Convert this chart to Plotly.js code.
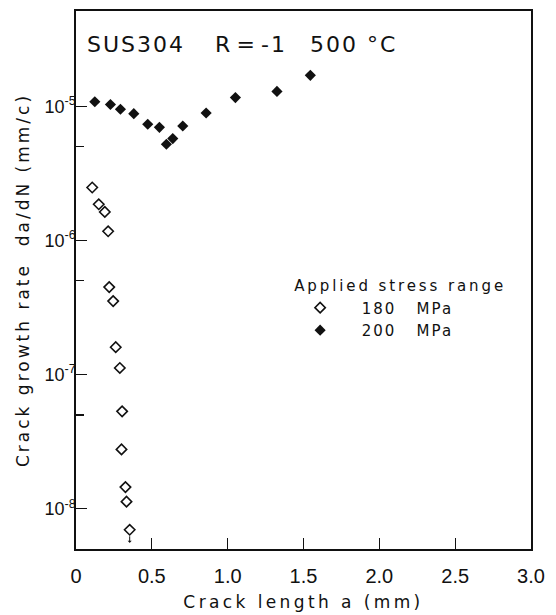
<!DOCTYPE html>
<html>
<head>
<meta charset="utf-8">
<script src="https://cdn.plot.ly/plotly-3.0.1.min.js"></script>
<style>
  html, body { margin: 0; padding: 0; background: #fff; }
  #chart { width: 556px; height: 615px; }
  .xtitle { letter-spacing: 3.4px; }
  .ytitle { letter-spacing: 3px; }
  .annotation-text { letter-spacing: 2px; }
  .legendtext { letter-spacing: 2px; }
  .legendtitletext { letter-spacing: 2.9px; }
</style>
</head>
<body>
<div id="chart"></div>
<script>
// Crack growth rate vs crack length, SUS304 at 500 °C, R = -1
const crack180 = [0.107, 0.150, 0.190, 0.212, 0.219, 0.245, 0.262, 0.289, 0.304, 0.300, 0.326, 0.333, 0.354];
const rate180  = [2.48e-6, 1.86e-6, 1.63e-6, 1.17e-6, 4.49e-7, 3.53e-7, 1.60e-7, 1.12e-7, 5.32e-8, 2.77e-8, 1.45e-8, 1.13e-8, 6.97e-9];

const crack200 = [0.124, 0.227, 0.293, 0.381, 0.473, 0.550, 0.596, 0.638, 0.704, 0.858, 1.051, 1.325, 1.545];
const rate200  = [1.08e-5, 1.03e-5, 9.5e-6, 8.8e-6, 7.34e-6, 6.97e-6, 5.21e-6, 5.74e-6, 7.13e-6, 8.91e-6, 1.16e-5, 1.29e-5, 1.70e-5];

const seriesNames = ['  180   MPa', '  200   MPa'];

const xTickVals = [0, 0.5, 1.0, 1.5, 2.0, 2.5, 3.0];
const xTickText = ['0', '0.5', '1.0', '1.5', '2.0', '2.5', '3.0'];
const yTickVals = [1e-8, 1e-7, 1e-6, 1e-5];
const yTickText = ['10<sup>-8</sup>', '10<sup>-7</sup>', '10<sup>-6</sup>', '10<sup>-5</sup>'];
const yMinorVals = [5e-8, 5e-7, 5e-6];

const ink = '#111';
const font = 'DejaVu Sans, sans-serif';

const traces = [
  {
    x: crack180, y: rate180, name: seriesNames[0],
    type: 'scatter', mode: 'markers',
    marker: { symbol: 'diamond-open', size: 8, color: ink, line: { width: 1.6, color: ink } }
  },
  {
    x: crack200, y: rate200, name: seriesNames[1],
    type: 'scatter', mode: 'markers',
    marker: { symbol: 'diamond', size: 8.6, color: ink, line: { width: 0 } }
  }
];

// the last 180 MPa point is a run-out: small arrow pointing down beneath it
const lastIdx = crack180.length - 1;

const layout = {
  width: 556, height: 615,
  margin: { l: 76, r: 25, t: 11, b: 66 },
  paper_bgcolor: '#fff', plot_bgcolor: '#fff',
  font: { family: font, color: ink },
  showlegend: true,
  legend: {
    x: 0.475, y: 0.515, xanchor: 'left', yanchor: 'top',
    bgcolor: 'rgba(0,0,0,0)', borderwidth: 0,
    itemwidth: 46,
    font: { family: font, size: 15, color: ink },
    title: { text: 'Applied stress range', font: { family: font, size: 15, color: ink } },
    tracegroupgap: 0
  },
  xaxis: {
    range: [0, 3.0],
    tickmode: 'array', tickvals: xTickVals, ticktext: xTickText,
    ticks: 'inside', ticklen: 11, tickwidth: 1.3, tickcolor: ink,
    showline: true, linewidth: 1.6, linecolor: ink, mirror: true,
    showgrid: false, zeroline: false,
    tickfont: { family: 'Liberation Sans, sans-serif', size: 20, color: ink },
    ticklabelstandoff: 8,
    title: { text: 'Crack length a (mm)', font: { family: font, size: 17, color: ink }, standoff: 10 }
  },
  yaxis: {
    type: 'log', range: [-8.3, -4.29],
    tickmode: 'array', tickvals: yTickVals, ticktext: yTickText,
    ticks: 'inside', ticklen: 11, tickwidth: 1.3, tickcolor: ink,
    minor: { tickmode: 'array', tickvals: yMinorVals, ticks: 'inside', ticklen: 8, tickwidth: 1.3, tickcolor: ink, showgrid: false },
    showline: true, linewidth: 1.6, linecolor: ink, mirror: true,
    showgrid: false, zeroline: false,
    tickfont: { family: 'Liberation Sans, sans-serif', size: 18, color: ink },
    ticklabelstandoff: -5,
    title: { text: 'Crack growth rate  da/dN (mm/c)', font: { family: font, size: 17, color: ink }, standoff: 10 }
  },
  annotations: [
    { text: 'SUS304', xref: 'paper', yref: 'paper', x: 0.02, y: 0.937, xanchor: 'left', yanchor: 'middle', showarrow: false, font: { family: font, size: 22, color: ink } },
    { text: 'R\u200A=\u200A-1', xref: 'paper', yref: 'paper', x: 0.30, y: 0.937, xanchor: 'left', yanchor: 'middle', showarrow: false, font: { family: font, size: 22, color: ink } },
    { text: '500 °C', xref: 'paper', yref: 'paper', x: 0.51, y: 0.937, xanchor: 'left', yanchor: 'middle', showarrow: false, font: { family: font, size: 22, color: ink } },
    {
      text: '', xref: 'x', yref: 'y',
      x: crack180[lastIdx], y: Math.log10(rate180[lastIdx]),
      yshift: -13, ax: 0, ay: -8, showarrow: true,
      arrowhead: 1, arrowsize: 0.7, arrowwidth: 1, arrowcolor: ink
    }
  ]
};

Plotly.newPlot('chart', traces, layout, { displayModeBar: false, staticPlot: true });
</script>
</body>
</html>
